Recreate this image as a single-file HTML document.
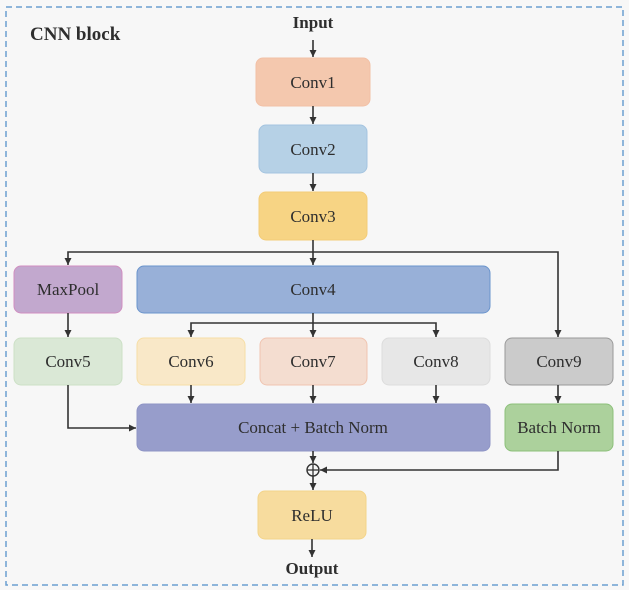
<!DOCTYPE html>
<html><head><style>
body{margin:0;background:#fff;}
svg text{font-family:"Liberation Serif",serif;fill:#2e2e2e;}
</style></head><body>
<svg width="629" height="590" viewBox="0 0 629 590" xmlns="http://www.w3.org/2000/svg">
<defs><marker id="a" markerWidth="8" markerHeight="8" refX="7" refY="4" orient="auto" markerUnits="userSpaceOnUse"><path d="M0,0.5 L7,4 L0,7.5 z" fill="#333"/></marker></defs>
<rect x="0" y="0" width="629" height="590" fill="#f7f7f7"/>
<rect x="6" y="7" width="617" height="578" fill="none" stroke="#6b9fd0" stroke-width="1.5" stroke-dasharray="6,4"/>
<text x="30" y="40" font-size="19" font-weight="bold">CNN block</text>
<text x="313" y="28" font-size="17" font-weight="bold" text-anchor="middle">Input</text>
<text x="312" y="574" font-size="17" font-weight="bold" text-anchor="middle">Output</text>
<g stroke-width="1">
<rect x="256" y="58" width="114" height="48" rx="7" fill="#f4c8ae" stroke="#f2c0a6"/>
<rect x="259" y="125" width="108" height="48" rx="7" fill="#b6d1e6" stroke="#a4c4e0"/>
<rect x="259" y="192" width="108" height="48" rx="7" fill="#f7d484" stroke="#f3cc78"/>
<rect x="14" y="266" width="108" height="47" rx="7" fill="#c2a8ce" stroke="#d08ec0"/>
<rect x="137" y="266" width="353" height="47" rx="7" fill="#98b0d8" stroke="#6a94cc"/>
<rect x="14" y="338" width="108" height="47" rx="7" fill="#dae8d6" stroke="#cce0c6"/>
<rect x="137" y="338" width="108" height="47" rx="7" fill="#f9e8c8" stroke="#f6dea6"/>
<rect x="260" y="338" width="107" height="47" rx="7" fill="#f4ddd0" stroke="#f0c4b0"/>
<rect x="382" y="338" width="108" height="47" rx="7" fill="#e7e7e7" stroke="#dcdcdc"/>
<rect x="505" y="338" width="108" height="47" rx="7" fill="#cbcbcb" stroke="#9a9a9a"/>
<rect x="137" y="404" width="353" height="47" rx="7" fill="#979dcb" stroke="#8f95c6"/>
<rect x="505" y="404" width="108" height="47" rx="7" fill="#acd19c" stroke="#8cc07a"/>
<rect x="258" y="491" width="108" height="48" rx="7" fill="#f7dc9e" stroke="#f3d48a"/>
</g>
<g font-size="17" text-anchor="middle">
<text x="313" y="88">Conv1</text>
<text x="313" y="155">Conv2</text>
<text x="313" y="222">Conv3</text>
<text x="68" y="295">MaxPool</text>
<text x="313" y="295">Conv4</text>
<text x="68" y="367">Conv5</text>
<text x="191" y="367">Conv6</text>
<text x="313" y="367">Conv7</text>
<text x="436" y="367">Conv8</text>
<text x="559" y="367">Conv9</text>
<text x="313" y="433">Concat + Batch Norm</text>
<text x="559" y="433">Batch Norm</text>
<text x="312" y="521">ReLU</text>
</g>
<g stroke="#333" stroke-width="1.6" fill="none" marker-end="url(#a)">
<line x1="313" y1="40" x2="313" y2="57"/>
<line x1="313" y1="106" x2="313" y2="124"/>
<line x1="313" y1="173" x2="313" y2="191"/>
<line x1="313" y1="240" x2="313" y2="265"/>
<polyline points="313,252 68,252 68,265"/>
<polyline points="313,252 558,252 558,337"/>
<line x1="68" y1="313" x2="68" y2="337"/>
<line x1="313" y1="313" x2="313" y2="337"/>
<polyline points="313,323 191,323 191,337"/>
<polyline points="313,323 436,323 436,337"/>
<line x1="191" y1="385" x2="191" y2="403"/>
<line x1="313" y1="385" x2="313" y2="403"/>
<line x1="436" y1="385" x2="436" y2="403"/>
<line x1="558" y1="385" x2="558" y2="403"/>
<polyline points="68,385 68,428 136,428"/>
<line x1="313" y1="451" x2="313" y2="463"/>
<polyline points="558,451 558,470 320,470"/>
<line x1="313" y1="476" x2="313" y2="490"/>
<line x1="312" y1="539" x2="312" y2="557"/>
</g>
<circle cx="313" cy="470" r="6" fill="none" stroke="#333" stroke-width="1.4"/>
<line x1="307" y1="470" x2="319" y2="470" stroke="#333" stroke-width="1.3"/>
<line x1="313" y1="464" x2="313" y2="476" stroke="#333" stroke-width="1.3"/>
</svg>
</body></html>
